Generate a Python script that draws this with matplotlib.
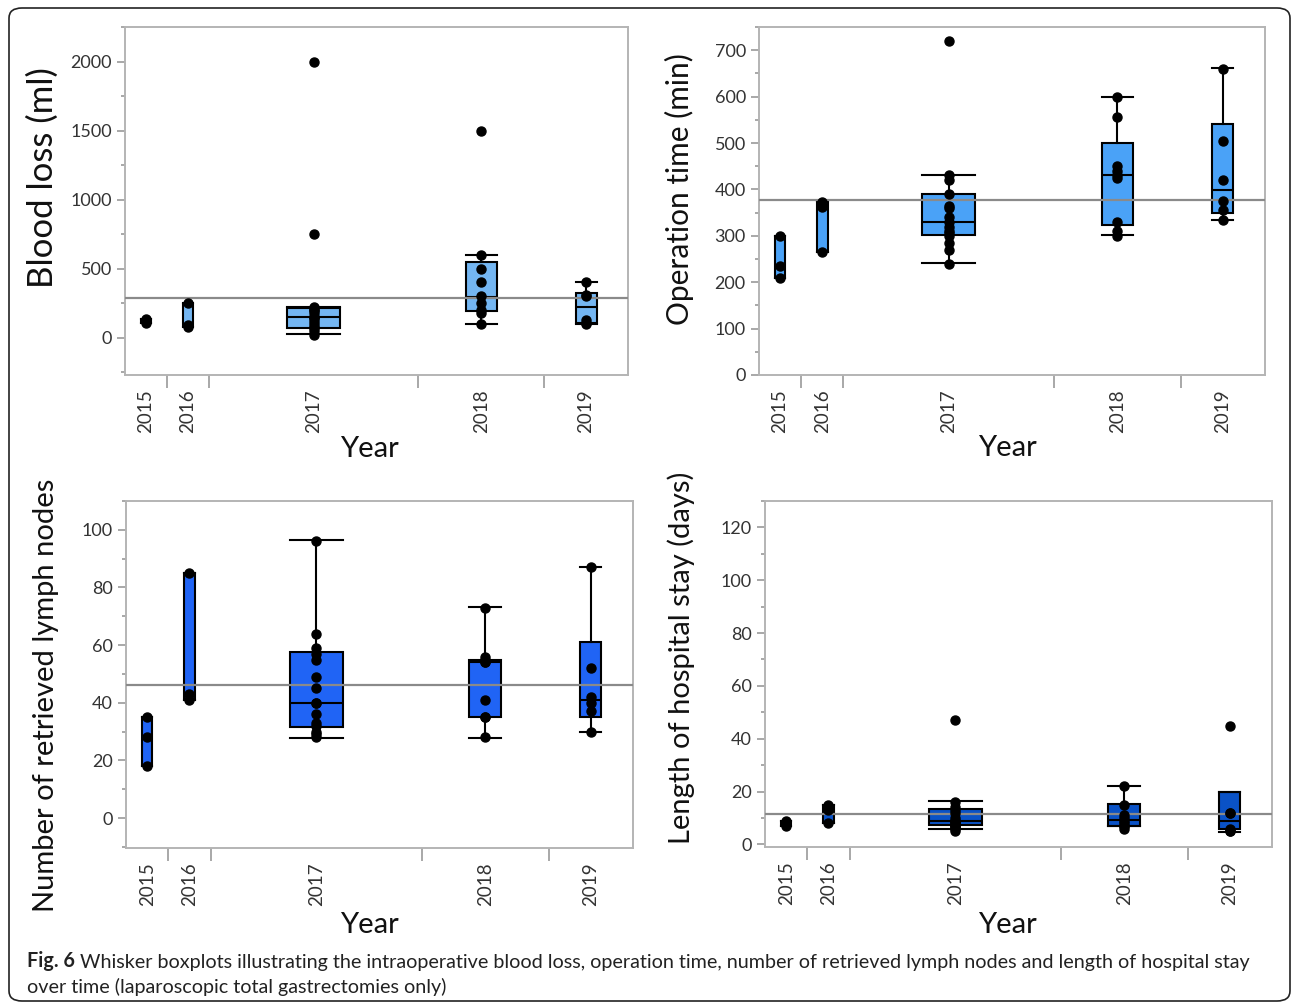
import matplotlib
matplotlib.use("Agg")
import matplotlib.pyplot as plt
from matplotlib.patches import FancyBboxPatch
from matplotlib.ticker import MultipleLocator, FixedLocator

plt.rcParams['font.family'] = ['Lato', 'DejaVu Sans']

W, H = 1293, 1006

years = ['2015', '2016', '2017', '2018', '2019']
n_per_year = [3, 3, 15, 9, 6]

# blood loss (ml)
blood_pts = [[110, 120, 135], [80, 90, 250],
             [20, 50, 70, 80, 100, 120, 140, 150, 150, 180, 200, 200, 220, 750, 2000],
             [100, 180, 200, 250, 300, 400, 500, 600, 1500],
             [100, 110, 130, 300, 310, 400]]
blood_q1 = [110, 85, 72, 190, 107]
blood_med = [120, 90, 149, 298, 226]
blood_q3 = [135, 245, 216, 550, 322]
blood_lo = [110, 80, 26, 100, 100]
blood_hi = [135, 250, 225, 600, 400]
blood_mean = 285

# operation time (min)
op_pts = [[210, 235, 300], [265, 362, 372],
          [240, 270, 285, 300, 305, 310, 320, 330, 340, 360, 365, 390, 420, 430, 720],
          [300, 310, 330, 425, 430, 440, 450, 555, 600],
          [333, 355, 375, 420, 505, 660]]
op_q1 = [210, 265, 301, 323, 349]
op_med = [235, 362, 330, 430, 398]
op_q3 = [300, 374, 391, 501, 541]
op_lo = [210, 265, 241, 302, 334]
op_hi = [300, 374, 431, 600, 661]
op_mean = 377

# retrieved lymph nodes
ln_pts = [[18, 28, 35], [41, 43, 85],
          [28, 29, 30, 32, 33, 36, 40, 40, 45, 49, 55, 57, 59, 64, 96],
          [28, 35, 35, 41, 54, 54, 55, 56, 73],
          [30, 37, 40, 42, 52, 87]]
ln_q1 = [18, 41, 31.6, 35.1, 35.1]
ln_med = [28, 43, 40, 54, 40.9]
ln_q3 = [35, 85, 57.6, 54.7, 61.1]
ln_lo = [18, 41, 27.7, 27.8, 29.9]
ln_hi = [35, 85, 96.3, 73.2, 87.2]
ln_mean = 46.2

# hospital stay (days)
stay_pts = [[7, 8, 9], [8, 13, 15],
            [5, 6, 7, 7, 7, 8, 8, 9, 9, 10, 12, 13, 14, 16, 47],
            [6, 7, 7, 8, 9, 10, 11, 15, 22],
            [5, 5, 6, 12, 12, 45]]
stay_q1 = [7, 8, 7.2, 7, 6]
stay_med = [8, 13, 8.7, 9.4, 9]
stay_q3 = [9, 15, 13.2, 15.3, 20]
stay_lo = [7, 8, 5.7, 7, 4.7]
stay_hi = [9, 15, 16.5, 22, 20]
stay_mean = 11.5

panels = [
    dict(box=(125, 27, 628, 375), label='Blood loss (ml)', lab_xy=(59, 178), lab_size=25,
         ylim=(-270, 2250), major=500, minor=250, color='#74b6f2',
         pts=blood_pts, q1=blood_q1, med=blood_med, q3=blood_q3,
         lo=blood_lo, hi=blood_hi, mean=blood_mean, year_xy=(369, 436)),
    dict(box=(759, 27, 1265, 375), label='Operation time (min)', lab_xy=(694, 189), lab_size=21.5,
         ylim=(0, 750), major=100, minor=50, color='#4aa2f7',
         pts=op_pts, q1=op_q1, med=op_med, q3=op_q3,
         lo=op_lo, hi=op_hi, mean=op_mean, year_xy=(1007, 435)),
    dict(box=(126, 501, 633, 848), label='Number of retrieved lymph nodes', lab_xy=(59, 695), lab_size=21,
         ylim=(-10.4, 110), major=20, minor=10, color='#2064f5',
         pts=ln_pts, q1=ln_q1, med=ln_med, q3=ln_q3,
         lo=ln_lo, hi=ln_hi, mean=ln_mean, year_xy=(369, 912)),
    dict(box=(765, 501, 1272, 847), label='Length of hospital stay (days)', lab_xy=(695, 658), lab_size=21,
         ylim=(-1, 130), major=20, minor=10, color='#0a52c6',
         pts=stay_pts, q1=stay_q1, med=stay_med, q3=stay_q3,
         lo=stay_lo, hi=stay_hi, mean=stay_mean, year_xy=(1007, 912)),
]

fig = plt.figure(figsize=(W / 100, H / 100), dpi=100)

# rounded frame around the whole figure
frame = FancyBboxPatch((9 / W, 1 - 1001 / H), 1281 / W, 993 / H,
                       boxstyle="round,pad=0,rounding_size=0.01",
                       transform=fig.transFigure, fill=False,
                       edgecolor='#222222', linewidth=1.2)
fig.patches.append(frame)

edges = [0]
for n in n_per_year:
    edges.append(edges[-1] + n)
centers = [(edges[i] + edges[i + 1]) / 2 for i in range(len(years))]
widths = [0.25 * n for n in n_per_year]

for p in panels:
    l, t, r, b = p['box']
    ax = fig.add_axes([l / W, 1 - b / H, (r - l) / W, (b - t) / H])
    ax.set_xlim(0, edges[-1])
    ax.set_ylim(*p['ylim'])

    stats = []
    for i in range(len(years)):
        stats.append(dict(med=p['med'][i], q1=p['q1'][i], q3=p['q3'][i],
                          whislo=p['lo'][i], whishi=p['hi'][i], fliers=[]))
    ax.bxp(stats, positions=centers, widths=widths, patch_artist=True,
           showfliers=False, capwidths=widths,
           boxprops=dict(facecolor=p['color'], edgecolor='black', linewidth=1.5),
           medianprops=dict(color='black', linewidth=1.5),
           whiskerprops=dict(color='black', linewidth=1.5),
           capprops=dict(color='black', linewidth=1.5), zorder=2)

    ax.axhline(p['mean'], color='#8a8a8a', linewidth=1.6, zorder=3)

    for c, vals in zip(centers, p['pts']):
        ax.plot([c] * len(vals), vals, 'o', color='black', markersize=6.5,
                zorder=4, clip_on=False)

    for s in ax.spines.values():
        s.set_color('#b4b4b4')
        s.set_linewidth(1.4)

    ax.yaxis.set_major_locator(MultipleLocator(p['major']))
    ax.yaxis.set_minor_locator(MultipleLocator(p['minor']))
    ax.tick_params(axis='y', which='both', direction='out', colors='#9a9a9a',
                   labelcolor='#333333', labelsize=13, width=1.2)
    ax.tick_params(axis='y', which='major', length=6)
    ax.tick_params(axis='y', which='minor', length=3)

    ax.xaxis.set_major_locator(FixedLocator(centers))
    ax.set_xticklabels(years, rotation=90)
    ax.xaxis.set_minor_locator(FixedLocator(edges[1:-1]))
    ax.tick_params(axis='x', which='major', length=0, pad=10,
                   labelsize=13.5, labelcolor='#333333')
    ax.tick_params(axis='x', which='minor', length=9, width=1.2,
                   colors='#9a9a9a', direction='out')

    ax.set_ylabel(p['label'], fontsize=p['lab_size'], color='#111111')
    lx, ly = p['lab_xy']
    ax.yaxis.set_label_coords((lx - l) / (r - l), (b - ly) / (b - t))
    ax.set_xlabel('Year', fontsize=21, color='#111111')
    yx, yy = p['year_xy']
    ax.xaxis.set_label_coords((yx - l) / (r - l), (b - yy) / (b - t))

# caption
cap_font = ['Lato', 'DejaVu Sans']
t1 = fig.text(27 / W, 1 - 961 / H, 'Fig. 6', fontsize=14.2, fontweight='bold',
              family=cap_font, color='#222222', va='center')
ax0 = fig.axes[0]
ax0.annotate(' Whisker boxplots illustrating the intraoperative blood loss, operation time, '
             'number of retrieved lymph nodes and length of hospital stay',
             xy=(1, 0), xycoords=t1, va='bottom', fontsize=14.2, family=cap_font,
             color='#222222', annotation_clip=False)
fig.text(27 / W, 1 - 987 / H, 'over time (laparoscopic total gastrectomies only)',
         fontsize=14.2, family=cap_font, color='#222222', va='center')

fig.savefig('out.png', dpi=100)
